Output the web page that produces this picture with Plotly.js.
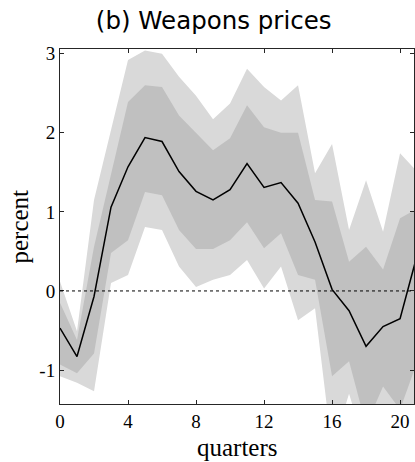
<!DOCTYPE html>
<html>
<head>
<meta charset="utf-8">
<script src="https://cdn.plot.ly/plotly-3.0.1.min.js"></script>
<style>html,body{margin:0;padding:0;background:#fff;}#chart{width:415px;height:462px;}</style>
</head>
<body>
<div id="chart"></div>
<script>
const quarters = [0,1,2,3,4,5,6,7,8,9,10,11,12,13,14,15,16,17,18,19,20,21];
const median  = [-0.47,-0.83,-0.07,1.06,1.57,1.94,1.89,1.51,1.26,1.15,1.28,1.61,1.31,1.37,1.11,0.62,0.02,-0.25,-0.70,-0.45,-0.35,0.45];
const outerHi = [0.12,-0.51,1.15,2.05,2.92,3.04,3.00,2.71,2.47,2.17,2.37,2.81,2.58,2.41,2.60,1.49,1.86,0.77,1.40,0.75,1.74,1.51];
const innerHi = [-0.15,-0.62,0.56,1.49,2.39,2.60,2.58,2.22,2.00,1.78,1.93,2.35,2.07,2.00,2.00,1.15,1.13,0.37,0.56,0.27,0.92,1.04];
const innerLo = [-0.93,-1.04,-0.79,0.48,0.64,1.25,1.21,0.77,0.53,0.53,0.64,0.87,0.54,0.73,0.20,0.14,-1.08,-0.89,-1.70,-1.21,-1.50,-0.90];
const outerLo = [-1.08,-1.16,-1.27,0.10,0.20,0.81,0.77,0.31,0.05,0.14,0.20,0.39,0.03,0.31,-0.37,-0.22,-2.00,-1.30,-2.00,-1.55,-1.90,-1.70];
const xTicks = [0,4,8,12,16,20];
const yTicks = [-1,0,1,2,3];

const lightGray = 'rgb(217,217,217)';
const darkGray = 'rgb(192,192,192)';
const serif = '"Liberation Serif", "DejaVu Serif", serif';

const traces = [
  {x: quarters, y: outerLo, mode: 'lines', line: {width: 0}, hoverinfo: 'skip', showlegend: false},
  {x: quarters, y: outerHi, mode: 'lines', line: {width: 0}, fill: 'tonexty', fillcolor: lightGray, hoverinfo: 'skip', showlegend: false},
  {x: quarters, y: innerLo, mode: 'lines', line: {width: 0}, hoverinfo: 'skip', showlegend: false},
  {x: quarters, y: innerHi, mode: 'lines', line: {width: 0}, fill: 'tonexty', fillcolor: darkGray, hoverinfo: 'skip', showlegend: false},
  {x: quarters, y: median, mode: 'lines', line: {color: '#000', width: 1.5}, showlegend: false}
];

const layout = {
  width: 415, height: 462,
  margin: {l: 60, r: 1, t: 49, b: 58},
  paper_bgcolor: '#fff', plot_bgcolor: '#fff',
  title: {text: '(b) Weapons prices', font: {family: '"DejaVu Sans", sans-serif', size: 24.5, color: '#000'}, x: 0.515, xanchor: 'center', y: 0.955, yanchor: 'middle'},
  xaxis: {
    range: [0, 20.82], tickvals: xTicks, ticktext: xTicks.map(String),
    ticks: 'inside', ticklen: 4, tickcolor: '#262626', tickwidth: 1,
    showline: true, linecolor: '#262626', linewidth: 1, mirror: 'ticks',
    showgrid: false, zeroline: false,
    tickfont: {family: serif, size: 19, color: '#000'},
    title: {text: ''}
  },
  yaxis: {
    range: [-1.43, 3.06], tickvals: yTicks, ticktext: yTicks.map(String),
    ticks: 'inside', ticklen: 4, tickcolor: '#262626', tickwidth: 1,
    showline: true, linecolor: '#262626', linewidth: 1, mirror: 'ticks',
    showgrid: false, zeroline: false,
    tickfont: {family: serif, size: 19, color: '#000'},
    title: {text: ''}
  },
  shapes: [
    {type: 'line', xref: 'paper', x0: 0, x1: 1, yref: 'y', y0: 0, y1: 0, line: {color: '#000', width: 1, dash: 'dot'}, layer: 'above'}
  ],
  annotations: [
    {text: 'quarters', xref: 'paper', yref: 'paper', x: 0.5, y: -0.122, xanchor: 'center', yanchor: 'middle', showarrow: false, font: {family: serif, size: 25, color: '#000'}},
    {text: 'percent', xref: 'paper', yref: 'paper', x: -0.113, y: 0.5, xanchor: 'center', yanchor: 'middle', textangle: -90, showarrow: false, font: {family: serif, size: 25, color: '#000'}}
  ]
};

Plotly.newPlot('chart', traces, layout, {displayModeBar: false, staticPlot: true});
</script>
</body>
</html>
